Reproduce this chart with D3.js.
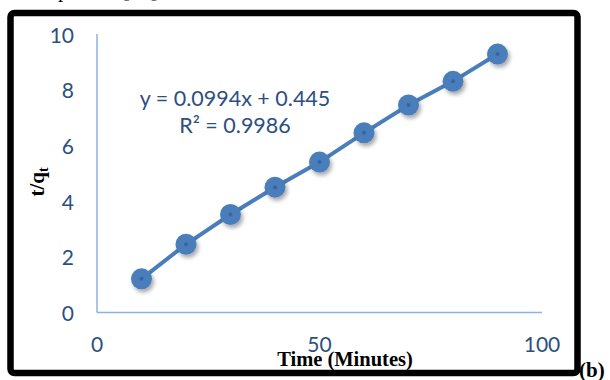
<!DOCTYPE html>
<html>
<head>
<meta charset="utf-8">
<script src="https://cdn.jsdelivr.net/npm/d3@7"></script>
<style>
  html, body { margin: 0; padding: 0; background: #fff; }
  svg { display: block; }
</style>
</head>
<body>
<script>
// Pseudo-second-order kinetics: t/qt against time
const times = [10, 20, 30, 40, 50, 60, 70, 80, 90];
const tOverQ = [1.21, 2.45, 3.52, 4.50, 5.40, 6.45, 7.45, 8.30, 9.28];
const xTicks = [0, 50, 100];
const yTicks = [0, 2, 4, 6, 8, 10];
const fitLines = ["y = 0.0994x + 0.445", "R\u00B2 = 0.9986"];

const W = 610, H = 380;
const svg = d3.select("body").append("svg").attr("width", W).attr("height", H);

const defs = svg.append("defs");
const sh = defs.append("filter").attr("id", "shadow")
  .attr("x", "-50%").attr("y", "-50%").attr("width", "200%").attr("height", "200%");
sh.append("feGaussianBlur").attr("in", "SourceAlpha").attr("stdDeviation", 2).attr("result", "b");
sh.append("feOffset").attr("in", "b").attr("dx", 2).attr("dy", 3).attr("result", "o");
sh.append("feComponentTransfer").attr("in", "o").attr("result", "s")
  .append("feFuncA").attr("type", "linear").attr("slope", 0.35);
const m = sh.append("feMerge");
m.append("feMergeNode").attr("in", "s");
m.append("feMergeNode").attr("in", "SourceGraphic");

// caption text from the page above, mostly out of view
svg.append("text")
  .attr("x", 58).attr("y", -3)
  .attr("font-family", "'Liberation Serif', serif")
  .attr("font-size", 21)
  .attr("fill", "#000")
  .text("pseudo [33]");

const x = d3.scaleLinear().domain([0, 100]).range([97, 542]);
const y = d3.scaleLinear().domain([0, 10]).range([312.5, 34]);

const blue = "#4A7EBB";
const axisColor = "#8DB3E2";
const labelColor = "#2C4F80";
const labelFont = "Lato, 'Open Sans', sans-serif";

// axes lines
svg.append("line")
  .attr("x1", x(0)).attr("x2", x(0)).attr("y1", y(10)).attr("y2", y(0))
  .attr("stroke", axisColor).attr("stroke-width", 1.5);
svg.append("line")
  .attr("x1", x(0)).attr("x2", x(100)).attr("y1", y(0)).attr("y2", y(0))
  .attr("stroke", axisColor).attr("stroke-width", 1.5);

// tick labels
svg.append("g").selectAll("text").data(yTicks).join("text")
  .attr("x", 74).attr("y", d => y(d))
  .attr("text-anchor", "end").attr("dominant-baseline", "central")
  .attr("font-family", labelFont).attr("font-size", 21)
  .attr("fill", labelColor)
  .text(d => d);
svg.append("g").selectAll("text").data(xTicks).join("text")
  .attr("x", d => x(d)).attr("y", 343)
  .attr("text-anchor", "middle").attr("dominant-baseline", "central")
  .attr("font-family", labelFont).attr("font-size", 21)
  .attr("fill", labelColor)
  .text(d => d);

// series line
const line = d3.line().x((d, i) => x(times[i])).y(d => y(d));
svg.append("path")
  .datum(tOverQ)
  .attr("d", line)
  .attr("fill", "none").attr("stroke", blue).attr("stroke-width", 4);

// markers
const pts = svg.append("g");
pts.selectAll("circle.mk").data(tOverQ).join("circle")
  .attr("class", "mk")
  .attr("cx", (d, i) => x(times[i])).attr("cy", d => y(d))
  .attr("r", 10.5).attr("fill", blue)
  .attr("filter", "url(#shadow)");
pts.selectAll("circle.dot").data(tOverQ).join("circle")
  .attr("class", "dot")
  .attr("cx", (d, i) => x(times[i])).attr("cy", d => y(d))
  .attr("r", 2).attr("fill", "#3565A3");

// fit equation
const eq = svg.append("text")
  .attr("text-anchor", "middle")
  .attr("font-family", labelFont).attr("font-size", 21.5)
  .attr("fill", labelColor);
eq.selectAll("tspan").data(fitLines).join("tspan")
  .attr("x", 235).attr("y", (d, i) => 98 + i * 27)
  .attr("dominant-baseline", "central")
  .text(d => d);

// axis titles
const serif = "'Liberation Serif', 'Times New Roman', serif";
svg.append("text")
  .attr("x", 345).attr("y", 359)
  .attr("text-anchor", "middle").attr("dominant-baseline", "central")
  .attr("font-family", serif).attr("font-weight", "bold").attr("font-size", 20.5)
  .attr("fill", "#000")
  .text("Time (Minutes)");

const yt = svg.append("text")
  .attr("transform", "translate(44,182) rotate(-90)")
  .attr("text-anchor", "middle")
  .attr("font-family", serif).attr("font-weight", "bold").attr("font-size", 21)
  .attr("fill", "#000");
yt.append("tspan").text("t/q");
yt.append("tspan").attr("font-size", 14).attr("dy", 4).text("t");

// frame
svg.append("rect")
  .attr("x", 10.5).attr("y", 13).attr("width", 567).attr("height", 360)
  .attr("rx", 4)
  .attr("fill", "none").attr("stroke", "#000").attr("stroke-width", 6.5);

svg.append("text")
  .attr("x", 579).attr("y", 377)
  .attr("font-family", serif).attr("font-weight", "bold").attr("font-size", 21)
  .attr("fill", "#000")
  .text("(b)");
</script>
</body>
</html>
